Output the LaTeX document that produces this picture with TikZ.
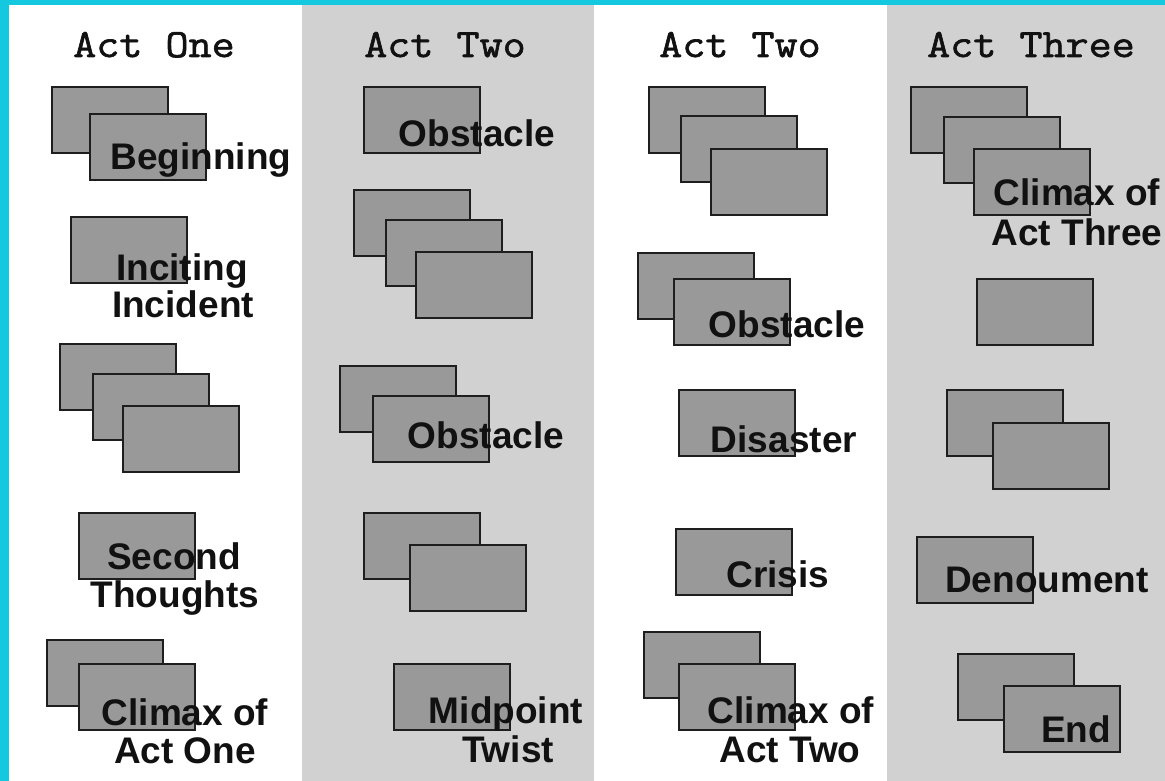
\documentclass[tikz,border=0pt]{standalone}
\usepackage{fontspec}
\setmainfont{Liberation Sans}
\newfontfamily\hdrfont[FakeBold=1.6,FakeStretch=1.12]{Latin Modern Mono}
\definecolor{framecyan}{HTML}{14C8E0}
\definecolor{colgray}{HTML}{D1D1D1}
\definecolor{cardfill}{HTML}{999999}
\definecolor{cardline}{HTML}{1E1E1E}
\definecolor{ink}{HTML}{111111}
\tikzset{
  card/.style={rectangle, draw=cardline, fill=cardfill, line width=2pt,
    minimum width=116pt, minimum height=66pt, inner sep=0pt, anchor=north west},
  lbl/.style={font=\fontsize{37}{38}\selectfont\bfseries, text=ink, anchor=base, inner sep=0pt},
  hdr/.style={font=\hdrfont\fontsize{40}{41}\selectfont, text=ink, anchor=base, inner sep=0pt}
}
\begin{document}
\begin{tikzpicture}[x=1pt,y=-1pt]
\useasboundingbox (0,0) rectangle (1165,781);
% background
\fill[framecyan] (0,0) rectangle (1165,781);
\fill[white] (9,5) rectangle (1165,781);
\fill[colgray] (302,5) rectangle (594,781);
\fill[colgray] (887,5) rectangle (1165,781);
% headers
\node[hdr] (h1) at (154,57) {Act One};
\node[hdr] (h2) at (445,57) {Act Two};
\node[hdr] (h3) at (740,57) {Act Two};
\node[hdr] (h4) at (1031,57) {Act Three};
% column 1
\node[card] (a1) at (51,86) {};
\node[card] (a2) at (89,113) {};
\node[card] (a3) at (70,216) {};
\node[card] (a4) at (59,343) {};
\node[card] (a5) at (92,373) {};
\node[card] (a6) at (122,405) {};
\node[card] (a7) at (78,512) {};
\node[card] (a8) at (46,639) {};
\node[card] (a9) at (78,663) {};
% column 2
\node[card] (b1) at (363,86) {};
\node[card] (b2) at (353,189) {};
\node[card] (b3) at (385,219) {};
\node[card] (b4) at (415,251) {};
\node[card] (b5) at (339,365) {};
\node[card] (b6) at (372,395) {};
\node[card] (b7) at (363,512) {};
\node[card] (b8) at (409,544) {};
\node[card] (b9) at (393,663) {};
% column 3
\node[card] (c1) at (648,86) {};
\node[card] (c2) at (680,115) {};
\node[card] (c3) at (710,148) {};
\node[card] (c4) at (637,252) {};
\node[card] (c5) at (673,278) {};
\node[card] (c6) at (678,389) {};
\node[card] (c7) at (675,528) {};
\node[card] (c8) at (643,631) {};
\node[card] (c9) at (678,663) {};
% column 4
\node[card] (d1) at (910,86) {};
\node[card] (d2) at (943,116) {};
\node[card] (d3) at (973,148) {};
\node[card] (d4) at (976,278) {};
\node[card] (d5) at (946,389) {};
\node[card] (d6) at (992,422) {};
\node[card] (d7) at (916,536) {};
\node[card] (d8) at (957,653) {};
\node[card] (d9) at (1003,685) {};
% labels column 1
\node[lbl] (lBeg) at (201,170) {Beginning};
\node[lbl] (lInc1) at (182,280) {Inciting};
\node[lbl] (lInc2) at (183,317) {Incident};
\node[lbl] (lSec1) at (174,569) {Second};
\node[lbl] (lSec2) at (175,607) {Thoughts};
\node[lbl] (lCl1a) at (185,725) {Climax of};
\node[lbl] (lCl1b) at (185,763) {Act One};
% labels column 2
\node[lbl] (lObs1) at (477,147) {Obstacle};
\node[lbl] (lObs2) at (486,448) {Obstacle};
\node[lbl] (lMid1) at (506,723) {Midpoint};
\node[lbl] (lMid2) at (508,762) {Twist};
% labels column 3
\node[lbl] (lObs3) at (787,337) {Obstacle};
\node[lbl] (lDis) at (784,452) {Disaster};
\node[lbl] (lCri) at (778,587) {Crisis};
\node[lbl] (lCl2a) at (791,723) {Climax of};
\node[lbl] (lCl2b) at (790,762) {Act Two};
% labels column 4
\node[lbl] (lCl3a) at (1077,205) {Climax of};
\node[lbl] (lCl3b) at (1077,245) {Act Three};
\node[lbl] (lDen) at (1047,592) {Denoument};
\node[lbl] (lEnd) at (1076,742) {End};
\end{tikzpicture}
\end{document}
